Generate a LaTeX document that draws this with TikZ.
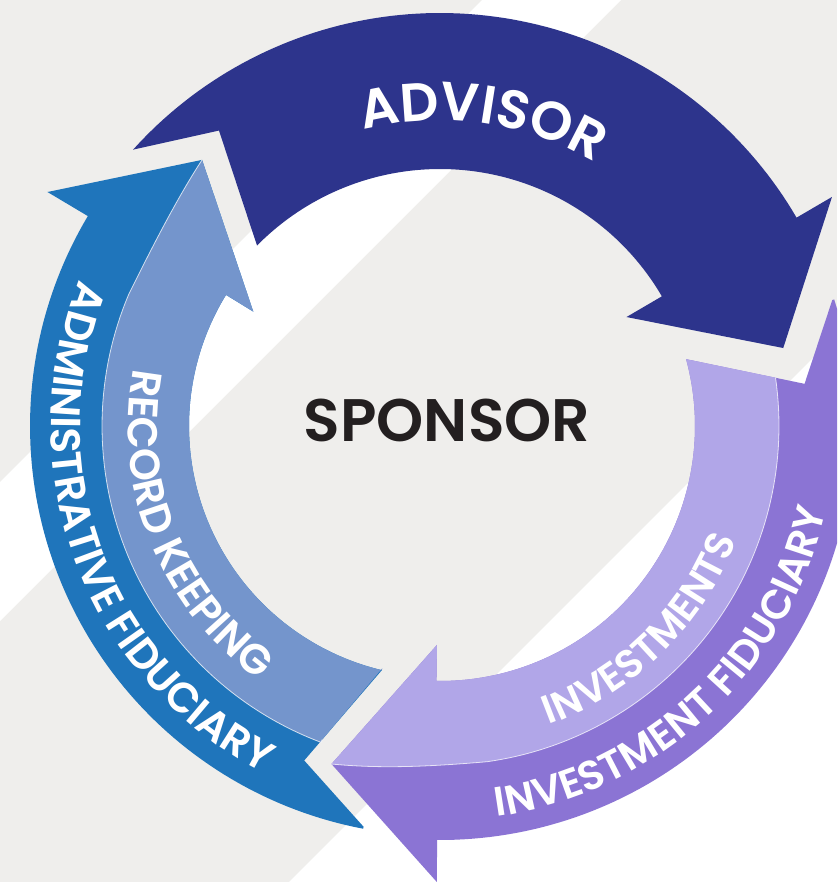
\documentclass[tikz,border=0pt]{standalone}
\usepackage{fontspec}
\setmainfont{Poppins}
\IfFontExistsTF{Poppins SemiBold}{\newfontfamily\heavyfont{Poppins SemiBold}}{\newfontfamily\heavyfont{Poppins}[UprightFont=*-Bold]}
\usetikzlibrary{decorations.text,calc}
\definecolor{bggray}{RGB}{239,238,236}
\definecolor{navy}{RGB}{45,52,140}
\definecolor{adminblue}{RGB}{31,117,187}
\definecolor{recblue}{RGB}{116,149,204}
\definecolor{invlav}{RGB}{177,166,232}
\definecolor{invpur}{RGB}{139,116,212}
\definecolor{sponsortext}{RGB}{35,31,32}
\tikzset{
  seamline/.style={draw=white, draw opacity=0.75, line width=0.8pt},
  ringtext/.style={decorate, decoration={text along path, text align=center, text={#1}}}
}
\newcommand{\rtfont}[1]{\color{white}\heavyfont\fontsize{#1}{#1}\selectfont}
\begin{document}
\begin{tikzpicture}[x=1pt,y=-1pt]
\useasboundingbox (0,0) rectangle (837,882);
% background bands
\fill[bggray] (0,0) rectangle (837,882);
\fill[white] (482,0) -- (621,0) -- (0,621) -- (0,482) -- cycle;
\fill[white] (837,334) -- (837,882) -- (289,882) -- cycle;
\begin{scope}
\clip (0,0) rectangle (837,882);
\begin{scope}[shift={(440,426)}]
% ADVISOR arrow
\fill[navy] (-138:413) -- plot[domain=-138:-30.3,samples=90] (\x:413)
  -- (-30.3:454) -- (-12.8:352) -- (-30.3:216) -- (-30.3:257)
  -- plot[domain=-30.3:-135.4,samples=90] (\x:257) -- (-126.8:369) -- cycle;
% ADMINISTRATIVE FIDUCIARY arrow (outer)
\fill[adminblue] (100.8:408) -- plot[domain=100.8:210.8,samples=90] (\x:410)
  -- (210.8:457) -- (228.2:357) -- (211.5:219) -- (211.5:254)
  -- plot[domain=211.5:103.4,samples=90] (\x:251) -- (112.1:361) -- cycle;
% RECORD KEEPING (inner part)
\fill[recblue] (103.4:249) -- (110.6:335)
  -- plot[domain=110.6:203,samples=70] (\x:338)
  .. controls (212:339) and (221:348) .. (228.2:357)
  -- (211.5:219) -- (211.5:254)
  -- plot[domain=211.5:103.4,samples=90] (\x:251) -- cycle;
\path[seamline] (110.6:335) -- plot[domain=110.6:203,samples=70] (\x:338)
  .. controls (212:339) and (221:348) .. (228.2:357);
% INVESTMENT FIDUCIARY arrow (outer)
\fill[invpur] (-17.8:412) -- plot[domain=-17.8:90.4,samples=90] (\x:414)
  -- (90.4:456) -- (107.8:355) -- (90.8:219) -- (90.8:257)
  -- plot[domain=90.8:-15.2,samples=90] (\x:255) -- (-6.6:367) -- cycle;
% INVESTMENTS (inner part)
\fill[invlav] (-15.2:255) -- (-8.2:339)
  -- plot[domain=-8.2:82,samples=70] (\x:339)
  .. controls (92:341) and (100:348) .. (107.8:355)
  -- (90.8:219) -- (90.8:257)
  -- plot[domain=90.8:-15.2,samples=90] (\x:255) -- cycle;
\path[seamline] (-8.2:339) -- plot[domain=-8.2:82,samples=70] (\x:339)
  .. controls (92:341) and (100:348) .. (107.8:355);
% ring texts
\path[ringtext={|\rtfont{54}|ADVISOR}] plot[domain=-142:-22,samples=120] (\x:306);
\path[ringtext={|\rtfont{42}|ADMINISTRATIVE FIDUCIARY}] plot[domain=232:87,samples=150] (\x:389);
\path[ringtext={|\rtfont{42}|RECORD KEEPING}] plot[domain=226:90,samples=150] (\x:312);
\path[ringtext={|\rtfont{41}|INVESTMENT FIDUCIARY}] plot[domain=116:-22,samples=150] (\x:395);
\path[ringtext={|\rtfont{40}|INVESTMENTS}] plot[domain=110:-19,samples=150] (\x:318);
\end{scope}
\end{scope}
\node[anchor=base, text=sponsortext, font=\heavyfont\fontsize{60}{60}\selectfont, inner sep=0pt] (sponsor) at (447,441) {SPONSOR};
\end{tikzpicture}
\end{document}
